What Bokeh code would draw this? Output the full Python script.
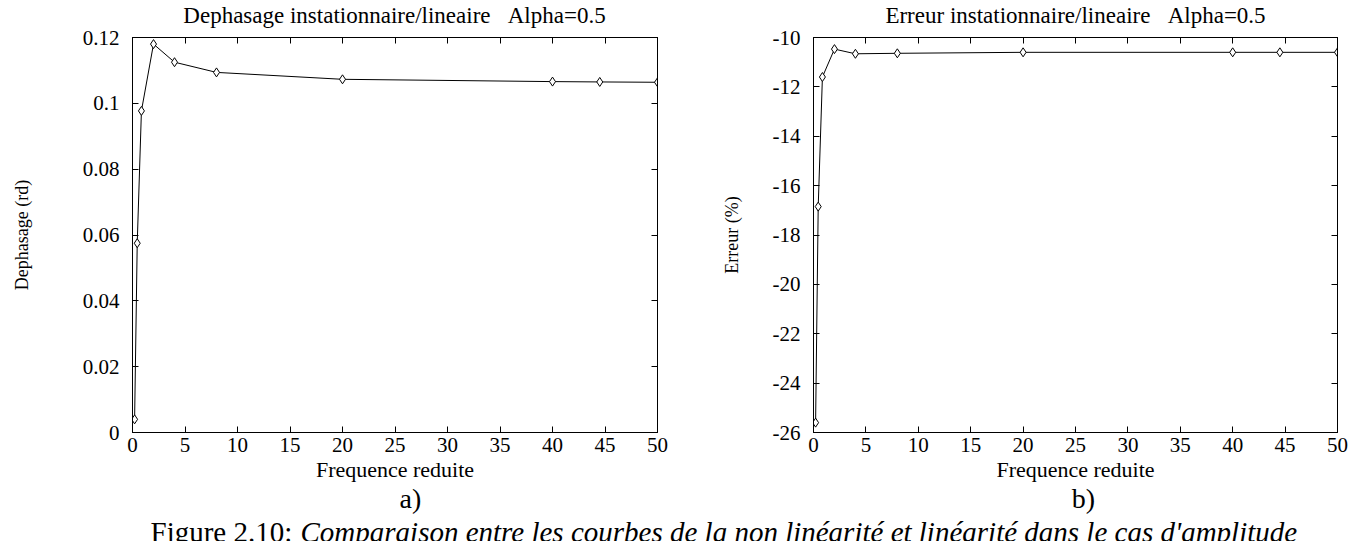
from bokeh.plotting import figure
from bokeh.models import Range1d, FixedTicker, LinearAxis, Label
from bokeh.layouts import column, row
from bokeh.embed import file_html
from bokeh.resources import INLINE

# ---- data ----
freq_a = [0.2, 0.45, 0.85, 2, 4, 8, 20, 40, 44.5, 50]
dephasage = [0.004, 0.0575, 0.0977, 0.118, 0.1125, 0.1094, 0.1073, 0.1066, 0.1065, 0.1064]
freq_b = [0.2, 0.45, 0.85, 2, 4, 8, 20, 40, 44.5, 50]
erreur = [-25.6, -16.85, -11.6, -10.47, -10.66, -10.64, -10.6, -10.6, -10.6, -10.6]

x_ticks = [0, 5, 10, 15, 20, 25, 30, 35, 40, 45, 50]
ya_ticks = [0, 0.02, 0.04, 0.06, 0.08, 0.1, 0.12]
ya_labels = ["0", "0.02", "0.04", "0.06", "0.08", "0.1", "0.12"]
yb_ticks = [-26, -24, -22, -20, -18, -16, -14, -12, -10]
yb_labels = ["-26", "-24", "-22", "-20", "-18", "-16", "-14", "-12", "-10"]

NB = "\u00a0"
title_a = "Dephasage instationnaire/lineaire" + NB * 3 + "Alpha=0.5"
title_b = "Erreur instationnaire/lineaire" + NB * 3 + "Alpha=0.5"
xlabel = "Frequence reduite"
ylabel_a = "Dephasage (rd)"
ylabel_b = "Erreur (%)"
caption_num = "Figure 2.10:"
caption_txt = "Comparaison entre les courbes de la non linéarité et linéarité dans le cas d'amplitude"

FONT = "Liberation Serif"
TITLE_H = 28
TOP_H = 484
W_LEFT = 700
W_TOTAL = 1364
H_TOTAL = 541


def style_axis(ax, ticks, labels=None, show_labels=True, standoff=6):
    ax.ticker = FixedTicker(ticks=ticks)
    ax.major_tick_in = 6
    ax.major_tick_out = 0
    ax.minor_tick_in = 0
    ax.minor_tick_out = 0
    ax.axis_line_color = "black"
    ax.major_tick_line_color = "black"
    ax.major_label_text_font = FONT
    ax.major_label_text_color = "black"
    ax.major_label_text_font_size = "21px" if show_labels else "2px"
    ax.major_label_standoff = standoff if show_labels else 0
    if show_labels:
        if labels is not None:
            ax.major_label_overrides = {t: l for t, l in zip(ticks, labels)}
    else:
        ax.major_label_overrides = {t: "" for t in ticks}
    ax.axis_label_text_font = FONT
    ax.axis_label_text_font_style = "normal"
    ax.axis_label_text_color = "black"


def blank(width, height):
    f = figure(width=width, height=height,
               x_range=Range1d(0, width), y_range=Range1d(height, 0),
               output_backend="svg", toolbar_location=None,
               x_axis_type=None, y_axis_type=None,
               min_border=0, outline_line_color=None)
    f.xgrid.visible = False
    f.ygrid.visible = False
    return f


def make_panel(xs, ys, ylabel, yticks, ylabels, yrange, width, bl, br, ystand):
    p = figure(width=width, height=TOP_H - TITLE_H,
               x_range=Range1d(0, 50), y_range=Range1d(*yrange),
               output_backend="svg", toolbar_location=None,
               min_border_left=bl, min_border_right=br,
               min_border_top=37 - TITLE_H, min_border_bottom=TOP_H - 434,
               background_fill_color="white", border_fill_color="white")
    p.outline_line_color = "black"
    p.xgrid.visible = False
    p.ygrid.visible = False

    style_axis(p.xaxis[0], x_ticks, standoff=5)
    p.xaxis[0].axis_label = xlabel
    p.xaxis[0].axis_label_text_font_size = "22px"
    p.xaxis[0].axis_label_standoff = 2

    style_axis(p.yaxis[0], yticks, ylabels, standoff=13)
    p.yaxis[0].axis_label = ylabel
    p.yaxis[0].axis_label_text_font_size = "18px"
    p.yaxis[0].axis_label_standoff = ystand

    top = LinearAxis()
    style_axis(top, x_ticks, show_labels=False)
    p.add_layout(top, "above")
    right = LinearAxis()
    style_axis(right, yticks, show_labels=False)
    p.add_layout(right, "right")

    p.line(xs, ys, line_color="black", line_width=1)
    p.scatter(xs, ys, marker="diamond", size=9, fill_color="white",
              line_color="black", line_width=1)
    return p


pa = make_panel(freq_a, dephasage, ylabel_a, ya_ticks, ya_labels,
                (0, 0.12), W_LEFT, 132, 43, 48)
pb = make_panel(freq_b, erreur, ylabel_b, yb_ticks, yb_labels,
                (-26, -10), W_TOTAL - W_LEFT, 113, 27, 28)

ta = blank(W_LEFT, TITLE_H)
ta.add_layout(Label(x=394, y=15, text=title_a, text_align="center", text_baseline="middle",
                    text_font=FONT, text_font_size="23px", text_color="black"))
tb = blank(W_TOTAL - W_LEFT, TITLE_H)
tb.add_layout(Label(x=375, y=15, text=title_b, text_align="center", text_baseline="middle",
                    text_font=FONT, text_font_size="23px", text_color="black"))

cap = blank(W_TOTAL, H_TOTAL - TOP_H)
cap.add_layout(Label(x=410, y=14, text="a)", text_align="center", text_baseline="middle",
                     text_font=FONT, text_font_size="28px", text_color="black"))
cap.add_layout(Label(x=1083, y=14, text="b)", text_align="center", text_baseline="middle",
                     text_font=FONT, text_font_size="28px", text_color="black"))
cap.add_layout(Label(x=150, y=47, text=caption_num, text_align="left", text_baseline="alphabetic",
                     text_font=FONT, text_font_size="29px", text_color="black"))
cap.add_layout(Label(x=300, y=47, text=caption_txt, text_align="left", text_baseline="alphabetic",
                     text_font=FONT, text_font_style="italic", text_font_size="29px",
                     text_color="black"))

layout = column(row(ta, tb, spacing=0), row(pa, pb, spacing=0), cap, spacing=0)
open("out.html", "w").write(file_html(layout, INLINE))
